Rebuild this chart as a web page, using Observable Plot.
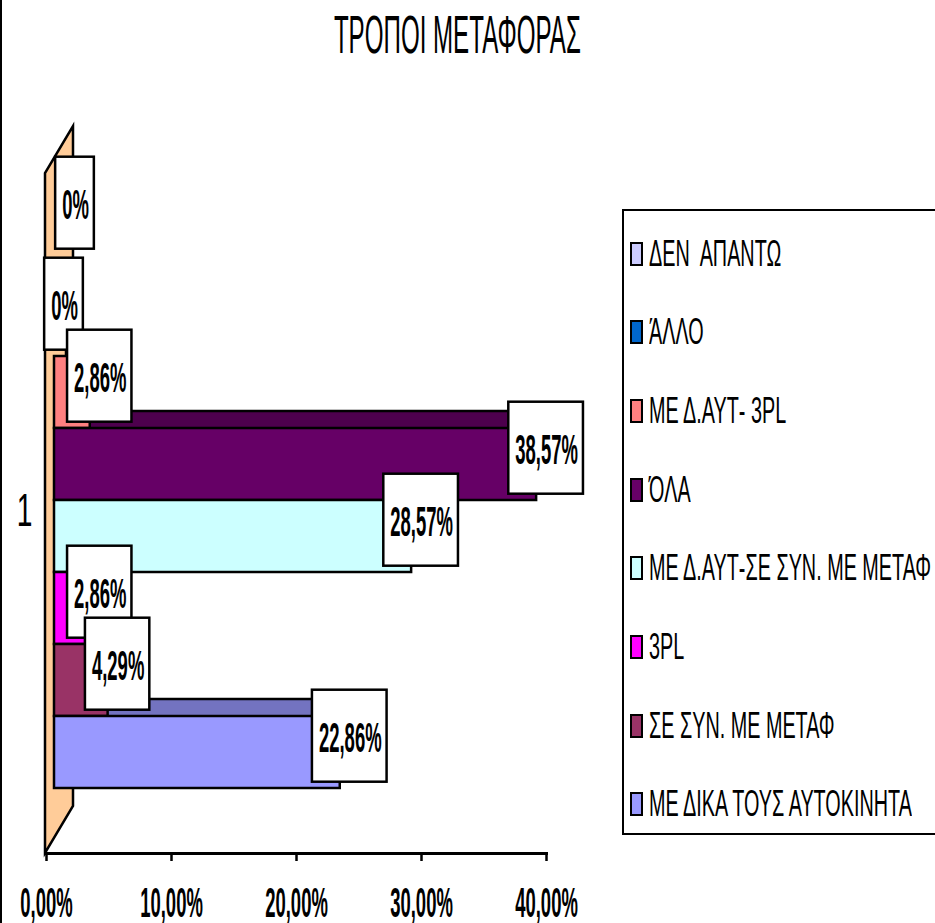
<!DOCTYPE html>
<html>
<head>
<meta charset="utf-8">
<script src="https://cdn.jsdelivr.net/npm/d3@7"></script>
<script src="https://cdn.jsdelivr.net/npm/@observablehq/plot@0.6"></script>
<style>
html,body{margin:0;padding:0;background:#fff;overflow:hidden}
#page{position:relative;width:935px;height:923px;overflow:hidden;font-family:"Liberation Sans",Arial,sans-serif;color:#000}
.edge{position:absolute;left:0;top:0;width:2px;height:923px;background:#000}
.title{position:absolute;left:0;top:8px;width:915px;text-align:center;font-size:53px;line-height:53px;white-space:pre}
.title span{display:inline-block;transform:scaleX(0.455)}
.legend{position:absolute;left:622px;top:209px;width:400px;height:626px;border:2.5px solid #000;box-sizing:border-box;background:#fff}
.item{position:absolute;left:0;height:36px;width:380px;line-height:36px;white-space:pre}
.sw{position:absolute;left:6px;top:6px;width:9px;height:20px;border:2px solid #000}
.lt{position:absolute;left:25px;top:0;font-size:36px;transform:scaleX(0.55);transform-origin:left center}
#page svg{position:absolute;left:0;top:80px}
</style>
</head>
<body>
<div id="page"><div class="edge"></div></div>
<script>
const chartTitle = "ΤΡΟΠΟΙ ΜΕΤΑΦΟΡΑΣ";
const category = "1";
const seriesNames = [
  "ΔΕΝ  ΑΠΑΝΤΩ",
  "ΆΛΛΟ",
  "ΜΕ Δ.ΑΥΤ- 3PL",
  "ΌΛΑ",
  "ΜΕ Δ.ΑΥΤ-ΣΕ ΣΥΝ. ΜΕ ΜΕΤΑΦ",
  "3PL",
  "ΣΕ ΣΥΝ. ΜΕ ΜΕΤΑΦ",
  "ΜΕ ΔΙΚΑ ΤΟΥΣ ΑΥΤΟΚΙΝΗΤΑ"
];
const seriesValues = [0, 0, 0.0286, 0.3857, 0.2857, 0.0286, 0.0429, 0.2286];
const valueLabels = ["0%", "0%", "2,86%", "38,57%", "28,57%", "2,86%", "4,29%", "22,86%"];
const seriesColors = ["#CCCCFF", "#0066CC", "#FF8080", "#660066", "#CCFFFF", "#FF00FF", "#993366", "#9999FF"];
const xTicks = [0, 0.1, 0.2, 0.3, 0.4];

const page = d3.select("#page");
page.append("div").attr("class", "title").append("span").text(chartTitle);

const rows = seriesNames.map((s, i) => ({
  idx: i,
  series: s,
  value: seriesValues[i],
  label: valueLabels[i],
  color: seriesColors[i],
  shade: d3.color(seriesColors[i]).darker(0.8).formatHex()
}));

const fmtPct = d => (d * 100).toFixed(2).replace(".", ",") + "%";

function wall(index, scales, values, dimensions) {
  const x0 = scales.x(0) - 1;
  const yb = dimensions.height - dimensions.marginBottom;
  const yt = dimensions.marginTop + 6;
  const g = d3.create("svg:g").attr("aria-label", "wall");
  g.append("path")
    .attr("d", `M${x0},${yb}L${x0},${yt}L${x0 + 28},${yt - 47}L${x0 + 28},${yb - 47}Z`)
    .attr("fill", "#FFCC99")
    .attr("stroke", "#000")
    .attr("stroke-width", 2.5);
  return g.node();
}

const labelStyle = {x: "value", y: "series", text: "label", fontSize: 42, fontWeight: "bold", fill: "#000", ariaDescription: "data-label"};

const plot = Plot.plot({
  width: 935,
  height: 843,
  marginLeft: 46,
  marginRight: 389,
  marginTop: 87,
  marginBottom: 70,
  style: {fontFamily: '"Liberation Sans", Arial, sans-serif', background: "transparent", overflow: "visible", color: "#000"},
  x: {domain: [0, 0.4], axis: null},
  y: {domain: seriesNames, range: [130, 710], padding: 0, axis: null},
  color: {type: "identity"},
  marks: [
    wall,
    Plot.barX(rows, {x: "value", y: "series", fill: "shade", stroke: "#000", strokeWidth: 2.5, dx: 20, dy: -17}),
    Plot.barX(rows, {x: "value", y: "series", fill: "color", stroke: "#000", strokeWidth: 2.5, dx: 8}),
    Plot.frame({anchor: "bottom", strokeWidth: 3}),
    Plot.axisX({ticks: xTicks, tickFormat: fmtPct, tickSize: 8, tickPadding: 26, fontSize: 42, fontWeight: "bold", strokeWidth: 2.5, label: null}),
    Plot.text([category], {text: d => d, frameAnchor: "left", dx: -14, textAnchor: "end", fontSize: 47, ariaDescription: "category"}),
    Plot.text(rows, {...labelStyle, filter: d => d.idx !== 0, dx: 18, dy: -14}),
    Plot.text(rows, {...labelStyle, filter: d => d.idx === 0, dx: 29, dy: -43})
  ]
});
document.getElementById("page").appendChild(plot);

// condensed look of the original lettering
d3.select(plot).selectAll("text").each(function() {
  const t = this.getAttribute("transform") || "";
  const s = this.closest('g[aria-description="category"]') ? 0.6 : 0.44;
  this.setAttribute("transform", t + ` scale(${s},1)`);
});

// white boxes behind the data labels
const svgRect = plot.getBoundingClientRect();
plot.querySelectorAll('g[aria-description="data-label"]').forEach(lg => {
  const parent = lg.parentNode;
  lg.querySelectorAll("text").forEach(t => {
    const r = t.getBoundingClientRect();
    const cy = r.y + r.height / 2 - svgRect.y;
    const rect = document.createElementNS("http://www.w3.org/2000/svg", "rect");
    rect.setAttribute("x", r.x - svgRect.x - 7);
    rect.setAttribute("y", cy - 48);
    rect.setAttribute("width", r.width + 12);
    rect.setAttribute("height", 92);
    rect.setAttribute("fill", "#fff");
    rect.setAttribute("stroke", "#000");
    rect.setAttribute("stroke-width", 2.5);
    parent.insertBefore(rect, lg);
  });
});

// legend
const legend = page.append("div").attr("class", "legend");
seriesNames.forEach((name, i) => {
  const item = legend.append("div").attr("class", "item").style("top", (24.5 + i * 78.7) + "px");
  item.append("span").attr("class", "sw").style("background", seriesColors[i]);
  item.append("span").attr("class", "lt").text(name);
});
</script>
</body>
</html>
